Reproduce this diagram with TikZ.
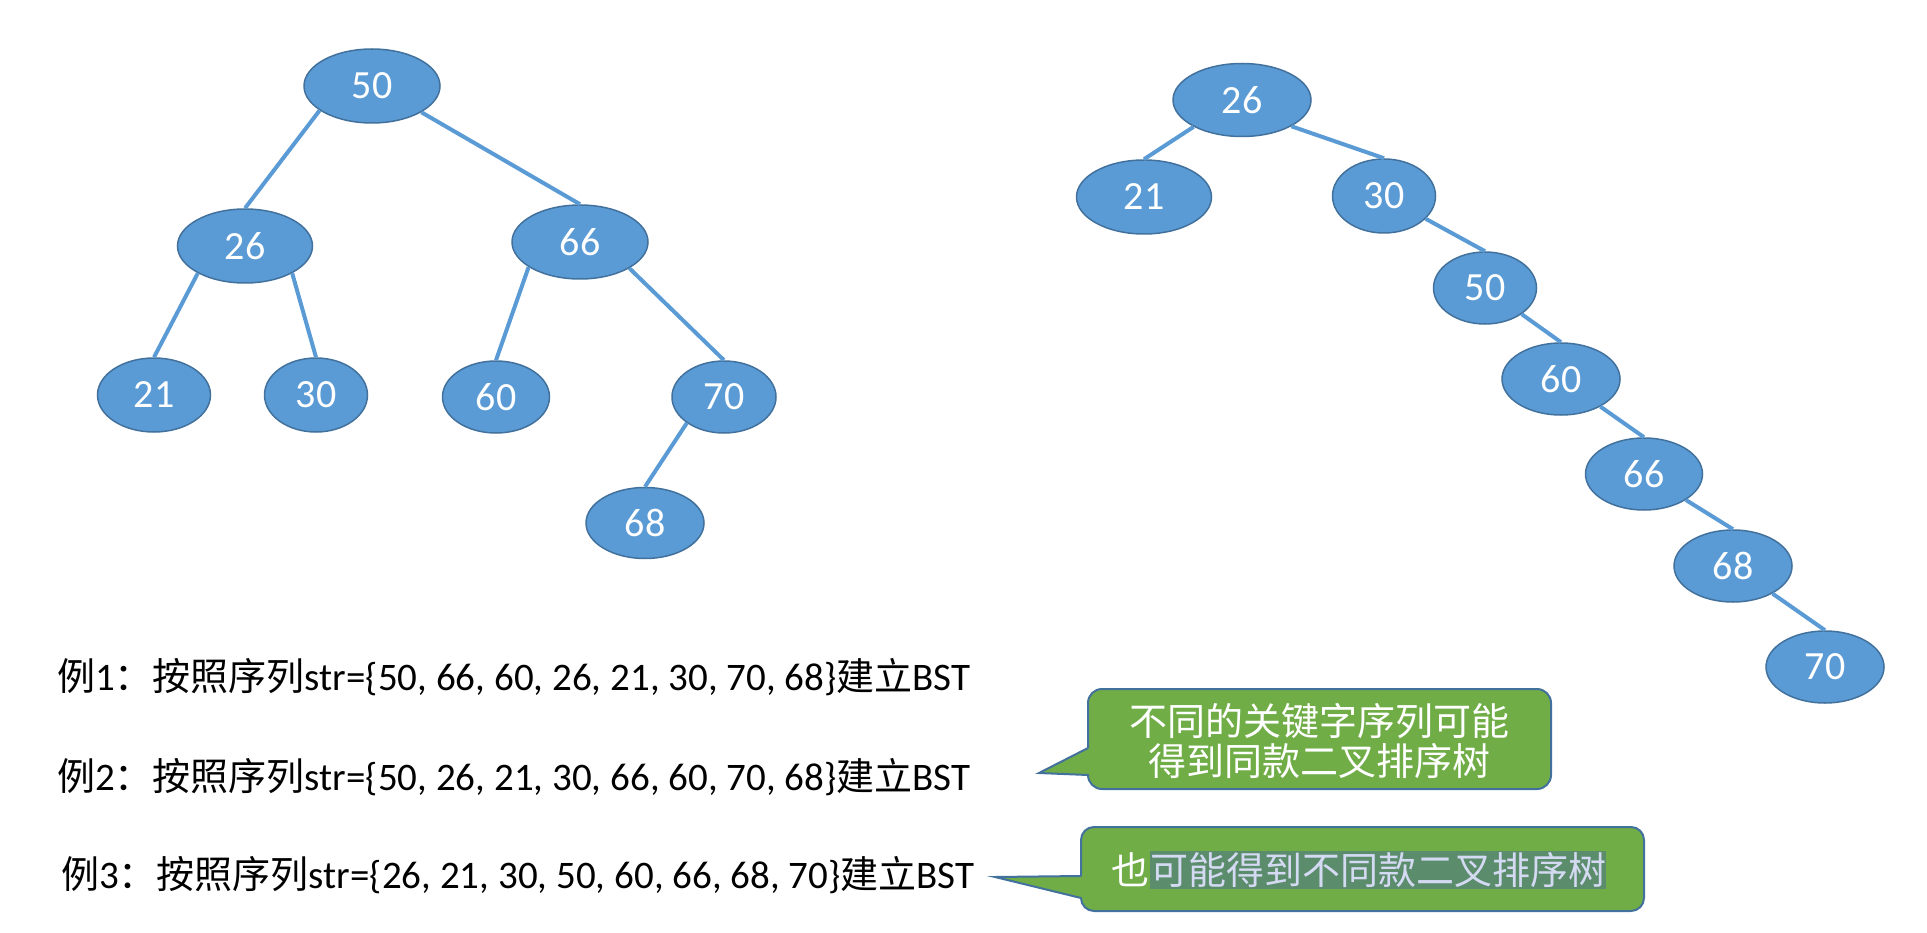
\documentclass[tikz,border=0pt]{standalone}
\usepackage{fontspec}
\setmainfont{Carlito}
\newfontfamily\cjk{Noto Sans CJK SC}
\usetikzlibrary{shapes.geometric}
\definecolor{nodefill}{HTML}{5B9BD5}
\definecolor{nodeline}{HTML}{41719C}
\definecolor{edgecol}{HTML}{5B9BD5}
\definecolor{bubfill}{HTML}{70AD47}
\definecolor{bubline}{HTML}{41719C}
\definecolor{hlfill}{HTML}{5B8C6C}
\definecolor{hltext}{HTML}{D4DAF2}
\newcommand{\bigfs}{\fontsize{38}{40}\selectfont}
\newcommand{\latfs}{\fontsize{39}{40}\selectfont}
\newcommand{\nodefs}{\fontsize{40}{40}\selectfont}
\newcommand{\cj}[1]{{\bigfs\cjk #1}}
\tikzset{
  bnode/.style={ellipse, fill=nodefill, draw=nodeline, line width=1.5pt, text=white, inner sep=0pt, font=\nodefs},
  treeedge/.style={draw=edgecol, line width=4pt},
  exline/.style={anchor=base west, inner sep=0pt, font=\latfs, text=black},
  bubble/.style={fill=bubfill, draw=bubline, line width=2pt},
  bubtext/.style={inner sep=0pt, font=\bigfs\cjk, text=white, align=center}
}
\begin{document}
\begin{tikzpicture}[x=1pt,y=-1pt]
\useasboundingbox (0,0) rectangle (1927,933);
% left tree
\node[bnode, minimum width=136pt, minimum height=74pt] (L50) at (372,86) {50};
\node[bnode, minimum width=135pt, minimum height=74pt] (L26) at (245,246) {26};
\node[bnode, minimum width=136pt, minimum height=74pt] (L66) at (580,242) {66};
\node[bnode, minimum width=113pt, minimum height=74pt] (L21) at (154,395) {21};
\node[bnode, minimum width=103pt, minimum height=74pt] (L30) at (316,395) {30};
\node[bnode, minimum width=107pt, minimum height=72pt] (L60) at (496,397) {60};
\node[bnode, minimum width=104pt, minimum height=72pt] (L70) at (724,397) {70};
\node[bnode, minimum width=118pt, minimum height=71pt] (L68) at (645,523) {68};
\draw[treeedge] (L50.205) -- (L26.north);
\draw[treeedge] (L50.-28) -- (L66.north);
\draw[treeedge] (L26.210) -- (L21.north);
\draw[treeedge] (L26.-30) -- (L30.north);
\draw[treeedge] (L66.206) -- (L60.north);
\draw[treeedge] (L66.-28) -- (L70.north);
\draw[treeedge] (L70.215) -- (L68.north);
% right tree
\node[bnode, minimum width=138pt, minimum height=73pt] (R26) at (1242,100) {26};
\node[bnode, minimum width=135pt, minimum height=74pt] (R21) at (1144,197) {21};
\node[bnode, minimum width=103pt, minimum height=74pt] (R30) at (1384,196) {30};
\node[bnode, minimum width=103pt, minimum height=72pt] (R50) at (1485,288) {50};
\node[bnode, minimum width=118pt, minimum height=72pt] (R60) at (1561,379) {60};
\node[bnode, minimum width=117pt, minimum height=72pt] (R66) at (1644,474) {66};
\node[bnode, minimum width=118pt, minimum height=72pt] (R68) at (1733,566) {68};
\node[bnode, minimum width=118pt, minimum height=72pt] (R70) at (1825,667) {70};
\draw[treeedge] (R26.209) -- (R21.north);
\draw[treeedge] (R26.-28) -- (R30.north);
\draw[treeedge] (R30) -- (R50.north);
\draw[treeedge] (R50) -- (R60.north);
\draw[treeedge] (R60) -- (R66.north);
\draw[treeedge] (R66) -- (R68.north);
\draw[treeedge] (R68) -- (R70.north);
% example lines
\node[exline] (ex1) at (57,690) {\cj{例}1\cj{：按照序列}str=\{50, 66, 60, 26, 21, 30, 70, 68\}\cj{建立}BST};
\node[exline] (ex2) at (57,790) {\cj{例}2\cj{：按照序列}str=\{50, 26, 21, 30, 66, 60, 70, 68\}\cj{建立}BST};
\node[exline] (ex3) at (61,888) {\cj{例}3\cj{：按照序列}str=\{26, 21, 30, 50, 60, 66, 68, 70\}\cj{建立}BST};
% bubble 1
\draw[bubble] (1088,748) -- (1039,773) -- (1088,775) [rounded corners=14pt] -- (1088,789) -- (1551,789) -- (1551,689) -- (1088,689) -- (1088,748);
\node[bubtext] (b1) at (1319,741) {不同的关键字序列可能\\得到同款二叉排序树};
% bubble 2
\draw[bubble] (1081,876) -- (995,877) -- (1081,898) [rounded corners=13pt] -- (1081,911) -- (1644,911) -- (1644,827) -- (1081,827) -- (1081,876);
\node[inner sep=0pt, fill=hlfill, minimum height=38pt, text=hltext, font=\bigfs\cjk, anchor=west] (b2h) at (1150,870) {可能得到不同款二叉排序树};
\node[inner sep=0pt, text=white, font=\bigfs\cjk, anchor=east] (b2a) at (b2h.west) {也};
\end{tikzpicture}
\end{document}
